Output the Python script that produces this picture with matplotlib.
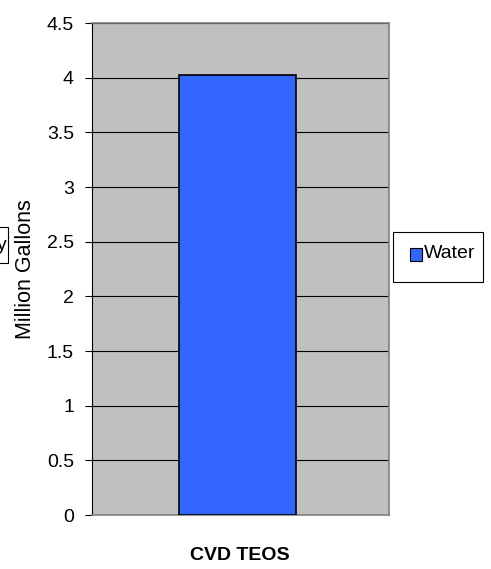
import matplotlib
matplotlib.use("Agg")
import matplotlib.pyplot as plt
from matplotlib.patches import Rectangle

categories = ["CVD TEOS"]
water = [4.02]
yticks = [0, 0.5, 1, 1.5, 2, 2.5, 3, 3.5, 4, 4.5]
ytick_labels = ["0", "0.5", "1", "1.5", "2", "2.5", "3", "3.5", "4", "4.5"]

plt.rcParams['font.family'] = ['Liberation Sans', 'DejaVu Sans']

fig = plt.figure(figsize=(4.91, 5.69), dpi=100)
W, H = 491, 569
L, R, T, B = 92, 389, 23, 515
ax = fig.add_axes([L / W, 1 - B / H, (R - L) / W, (B - T) / H])
ax.set_facecolor('#C0C0C0')

ax.bar([0], water, width=0.395, color='#3366FF', edgecolor='black', linewidth=1.2,
       zorder=3, label='Water')
ax.set_xlim(-0.49, 0.51)
ax.set_ylim(0, 4.5)
ax.set_yticks(yticks)
ax.set_yticklabels(ytick_labels, fontsize=14)
ax.yaxis.grid(True, color='black', linewidth=0.8, zorder=1)
ax.set_axisbelow(True)
ax.tick_params(axis='y', length=5, width=0.8, pad=8)
ax.set_xticks([])
for s in ['top', 'right']:
    ax.spines[s].set_color('#808080')
    ax.spines[s].set_linewidth(1.2)
ax.spines['left'].set_color('black')
ax.spines['bottom'].set_color('#808080')
ax.spines['bottom'].set_linewidth(1.2)

ax.set_ylabel('Million Gallons', fontsize=15.5, labelpad=8)
fig.text(240 / W, 1 - 555 / H, categories[0], fontsize=14,
         fontweight='bold', ha='center', va='center')

# legend box
fig.patches.append(Rectangle((393 / W, 1 - 282 / H), 90 / W, 50 / H, transform=fig.transFigure,
                             facecolor='white', edgecolor='black', linewidth=0.8))
fig.patches.append(Rectangle((410 / W, 1 - 261 / H), 12 / W, 13 / H, transform=fig.transFigure,
                             facecolor='#3366FF', edgecolor='black', linewidth=0.8))
fig.text(424 / W, 1 - 254 / H, 'Water', fontsize=14, ha='left', va='center')

# cropped box on the left
fig.patches.append(Rectangle((-40 / W, 1 - 263 / H), 48 / W, 36 / H, transform=fig.transFigure,
                             facecolor='white', edgecolor='black', linewidth=0.8))
fig.text(7 / W, 1 - 245 / H, 'y', fontsize=14, ha='right', va='center')

fig.savefig('out.png', dpi=100)
